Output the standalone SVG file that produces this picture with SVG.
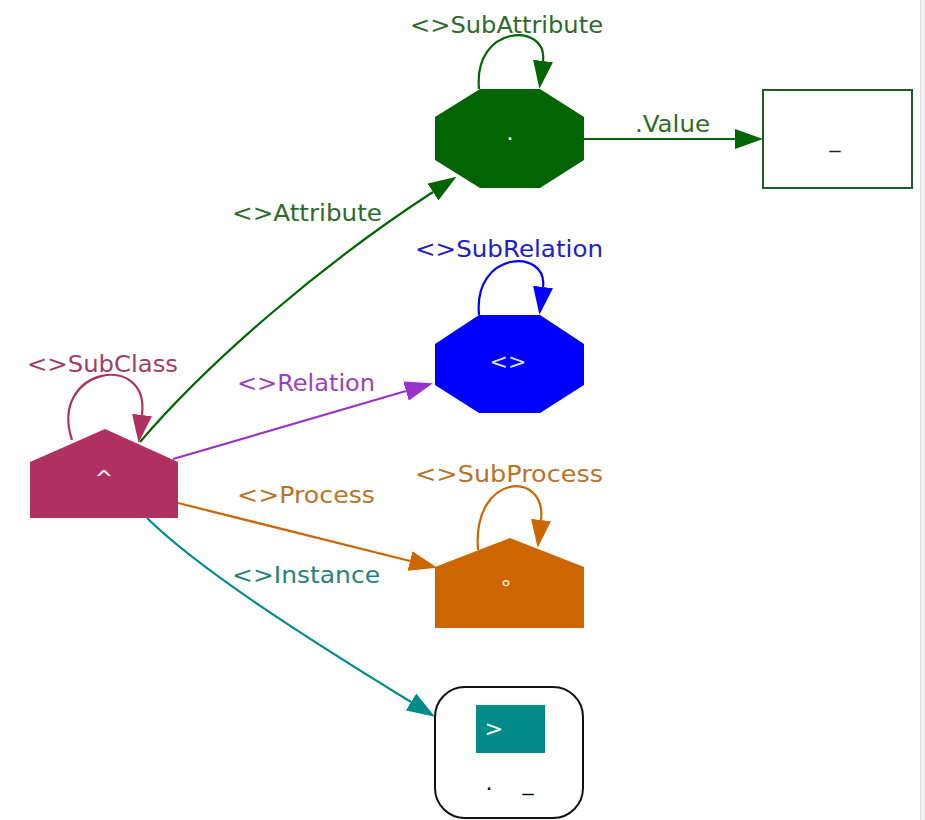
<svg xmlns="http://www.w3.org/2000/svg" width="925" height="820" viewBox="0 0 925 820">
  <style>
    text { font-family: "DejaVu Sans", "Liberation Sans", sans-serif; font-size: 22px; }
    .lbl { text-anchor: start; font-size: 23px; }
    .mid { text-anchor: middle; }
    .edge { fill: none; stroke-width: 2.2; }
  </style>
  <defs>
    <marker id="ah-green" viewBox="0 0 28 20" markerWidth="28" markerHeight="20" refX="0" refY="10" orient="auto" markerUnits="userSpaceOnUse"><path d="M0,0 L28,10 L0,20 z" fill="#006400"/></marker>
    <marker id="ah-blue" viewBox="0 0 28 20" markerWidth="28" markerHeight="20" refX="0" refY="10" orient="auto" markerUnits="userSpaceOnUse"><path d="M0,0 L28,10 L0,20 z" fill="#0000ff"/></marker>
    <marker id="ah-class" viewBox="0 0 28 20" markerWidth="28" markerHeight="20" refX="0" refY="10" orient="auto" markerUnits="userSpaceOnUse"><path d="M0,0 L28,10 L0,20 z" fill="#b03060"/></marker>
    <marker id="ah-purple" viewBox="0 0 28 20" markerWidth="28" markerHeight="20" refX="0" refY="10" orient="auto" markerUnits="userSpaceOnUse"><path d="M0,0 L28,10 L0,20 z" fill="#9932cc"/></marker>
    <marker id="ah-orange" viewBox="0 0 28 20" markerWidth="28" markerHeight="20" refX="0" refY="10" orient="auto" markerUnits="userSpaceOnUse"><path d="M0,0 L28,10 L0,20 z" fill="#cd6600"/></marker>
    <marker id="ah-teal" viewBox="0 0 28 20" markerWidth="28" markerHeight="20" refX="0" refY="10" orient="auto" markerUnits="userSpaceOnUse"><path d="M0,0 L28,10 L0,20 z" fill="#008b8b"/></marker>
  </defs>

  <rect x="0" y="0" width="925" height="820" fill="#ffffff"/>
  <rect x="920" y="0" width="5" height="820" fill="#f2f2f2"/>
  <line x1="920.5" y1="0" x2="920.5" y2="820" stroke="#e2e2e2" stroke-width="1"/>

  <!-- connectors -->
  <g id="edges">
    <path class="edge" stroke="#b03060" d="M72,440 C48,368 150,350 142,415" marker-end="url(#ah-class)"/>
    <path class="edge" stroke="#006400" d="M479,89 C473,24 548,22 543,61" marker-end="url(#ah-green)"/>
    <path class="edge" stroke="#0000ff" d="M479,315 C473,250 548,248 543,287" marker-end="url(#ah-blue)"/>
    <path class="edge" stroke="#cd6600" d="M478,550 C472,472 547,470 541,520" marker-end="url(#ah-orange)"/>
    <path class="edge" stroke="#006400" d="M140,442 C210,360 325,262 433,192" marker-end="url(#ah-green)"/>
    <path class="edge" stroke="#9932cc" d="M173,459 L406,391" marker-end="url(#ah-purple)"/>
    <path class="edge" stroke="#cd6600" d="M178,503 L410,561" marker-end="url(#ah-orange)"/>
    <path class="edge" stroke="#008b8b" d="M147,518 C200,570 305,637 411,702" marker-end="url(#ah-teal)"/>
    <path class="edge" stroke="#006400" d="M584,139 L735,139" marker-end="url(#ah-green)"/>

    <text class="lbl" x="27" y="372" fill="#9e3d68" textLength="151" lengthAdjust="spacingAndGlyphs">&lt;&gt;SubClass</text>
    <text class="lbl" x="410" y="33" fill="#2d6b2d" textLength="193" lengthAdjust="spacingAndGlyphs">&lt;&gt;SubAttribute</text>
    <text class="lbl" x="415" y="257" fill="#2020c8" textLength="188" lengthAdjust="spacingAndGlyphs">&lt;&gt;SubRelation</text>
    <text class="lbl" x="415" y="482" fill="#b8732a" textLength="188" lengthAdjust="spacingAndGlyphs">&lt;&gt;SubProcess</text>
    <text class="lbl" x="232" y="221" fill="#2d6b2d" textLength="150" lengthAdjust="spacingAndGlyphs">&lt;&gt;Attribute</text>
    <text class="lbl" x="237" y="391" fill="#9a40c0" textLength="138" lengthAdjust="spacingAndGlyphs">&lt;&gt;Relation</text>
    <text class="lbl" x="237" y="503" fill="#b8732a" textLength="138" lengthAdjust="spacingAndGlyphs">&lt;&gt;Process</text>
    <text class="lbl" x="232" y="583" fill="#2a8080" textLength="148" lengthAdjust="spacingAndGlyphs">&lt;&gt;Instance</text>
    <text class="lbl" x="635" y="132" fill="#2d6b2d" textLength="75" lengthAdjust="spacingAndGlyphs">.Value</text>
  </g>

  <!-- nodes -->
  <g id="node-class">
    <polygon points="30,518 30,462 105,429 178,462 178,518" fill="#b03060"/>
    <text class="mid" x="104" y="486" fill="#ffffff">^</text>
  </g>

  <g id="node-attribute">
    <polygon points="480,89 540,89 584,117 584,160 540,188 480,188 435,160 435,117" fill="#006400"/>
    <text class="mid" x="510" y="140" fill="#ffffff">.</text>
  </g>

  <g id="node-value">
    <rect x="763" y="90" width="149" height="98" fill="#ffffff" stroke="#1f5a2a" stroke-width="2"/>
    <text class="mid" x="835" y="147" fill="#222222">_</text>
  </g>

  <g id="node-relation">
    <polygon points="479,315 540,315 584,344 584,385 540,413 479,413 435,385 435,344" fill="#0000ff"/>
    <text class="mid" x="508" y="369" fill="#dcdcff">&lt;&gt;</text>
  </g>

  <g id="node-process">
    <polygon points="435,628 435,567 510,538 584,567 584,628" fill="#cd6600"/>
    <text class="mid" x="506" y="596" fill="#fff3d0" font-size="20">°</text>
  </g>

  <g id="node-instance">
    <rect x="435" y="687" width="148" height="131" rx="30" ry="30" fill="#ffffff" stroke="#111111" stroke-width="2"/>
    <rect x="476" y="705" width="69" height="48" fill="#008b8b"/>
    <text class="mid" x="494" y="736" fill="#ffffff">&gt;</text>
    <text class="mid" x="489" y="790" fill="#111111">.</text>
    <text class="mid" x="528" y="790" fill="#111111">_</text>
  </g>
</svg>
